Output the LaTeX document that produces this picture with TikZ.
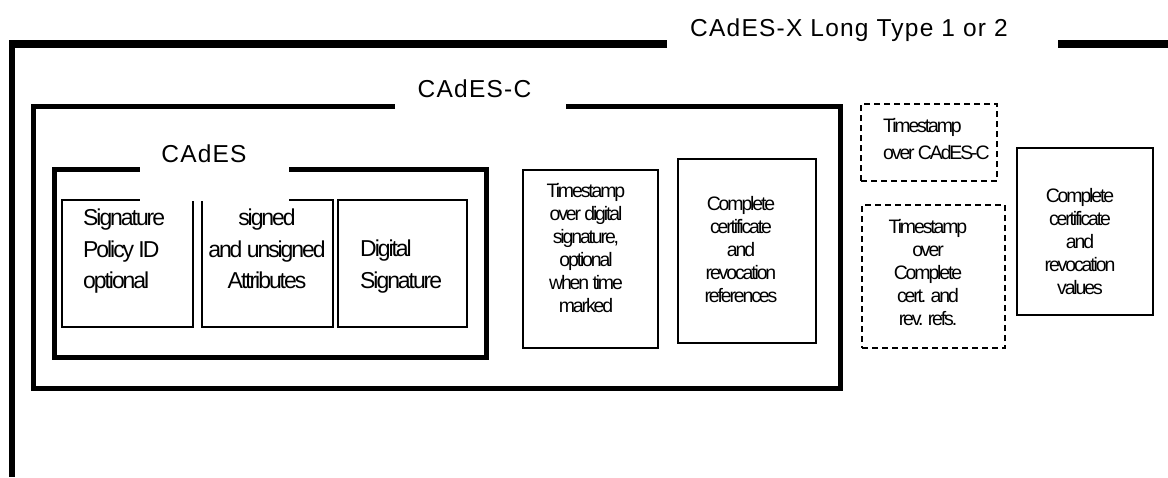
\documentclass[tikz,border=0pt]{standalone}
\usepackage{fontspec}
\setmainfont{Liberation Sans}
\newfontfamily\lblfont[LetterSpace=5]{Liberation Sans}
\newfontfamily\bigboxfont[LetterSpace=-9]{Liberation Sans}
\newfontfamily\smallboxfont[LetterSpace=-11]{Liberation Sans}
\begin{document}
\begin{tikzpicture}[x=1pt,y=-1pt,
  outerframe/.style={line width=7.5pt},
  cframe/.style={line width=5pt},
  elembox/.style={draw, line width=1.5pt, inner sep=0pt},
  dashbox/.style={elembox, line width=2.5pt, dash pattern=on 6pt off 4pt},
  lbl/.style={font=\lblfont\fontsize{24.5}{29}\selectfont, inner sep=0pt, anchor=base},
  bigtxt/.style={font=\bigboxfont\fontsize{23}{31.5}\selectfont, inner sep=0pt},
  smalltxt/.style={font=\smallboxfont\fontsize{19.5}{23}\selectfont, inner sep=0pt, align=center}]
\useasboundingbox (0,0) rectangle (1168,477);
\fill[white] (0,0) rectangle (1168,477);

% outer frame (CAdES-X Long Type 1 or 2)
\draw[outerframe] (667,43.8) -- (9,43.8);
\draw[line width=6pt] (12,40) -- (12,477);
\draw[outerframe] (1058,43.8) -- (1168,43.8);

% CAdES-C frame
\draw[cframe] (395,106.3) -- (33,106.3) -- (33,388.5) -- (840.8,388.5) -- (840.8,106.3) -- (566,106.3);

% CAdES frame
\draw[cframe] (54.7,169.2) rectangle (486.3,357);

% element boxes
\node[elembox, minimum width=131pt, minimum height=127pt] (b1) at (127.5,263.5) {};
\node[elembox, minimum width=131pt, minimum height=127pt] (b2) at (267.5,263.5) {};
\node[elembox, minimum width=129pt, minimum height=127pt] (b3) at (402.5,263.5) {};
\node[elembox, minimum width=135pt, minimum height=178pt] (ts) at (590.5,259) {};
\node[elembox, minimum width=138pt, minimum height=184pt] (ref) at (747,251) {};
\node[dashbox, minimum width=136pt, minimum height=77pt] (dts) at (929,142.5) {};
\node[dashbox, minimum width=143pt, minimum height=143pt] (dtr) at (933.5,276.5) {};
\node[elembox, minimum width=136pt, minimum height=167pt] (val) at (1085,231.5) {};

% white gap behind the CAdES label
\fill[white] (140,160) rectangle (289,201);

% frame labels
\node[lbl] (xlong) at (849,36) {CAdES-X Long Type 1 or 2};
\node[lbl] (cadesc) at (474.5,97.3) {CAdES-C};
\node[lbl] (cades) at (204,162) {CAdES};

% box texts
\node[bigtxt, align=left, anchor=west] (b1t) at (83,251) {\strut Signature\\\strut Policy ID\\\strut optional};
\node[bigtxt, align=center] (b2t) at (267,251) {\strut signed\\\strut and unsigned\\\strut Attributes};
\node[bigtxt, align=left, anchor=west] (b3t) at (360,266) {\strut Digital\\\strut Signature};
\node[smalltxt] (tst) at (586,250.5) {\strut Timestamp\\\strut over digital\\\strut signature,\\\strut optional\\\strut when time\\\strut marked};
\node[smalltxt] (reft) at (741,252) {\strut Complete\\\strut certificate\\\strut and\\\strut revocation\\\strut references};
\node[smalltxt, font=\smallboxfont\fontsize{19.5}{27}\selectfont, align=left, anchor=west] (dtst) at (883,141) {\strut Timestamp\\\strut over CAdES-C};
\node[smalltxt] (dtrt) at (928,275) {\strut Timestamp\\\strut over\\\strut Complete\\\strut cert. and\\\strut rev. refs.};
\node[smalltxt] (valt) at (1080,244) {\strut Complete\\\strut certificate\\\strut and\\\strut revocation\\\strut values};
\end{tikzpicture}
\end{document}
